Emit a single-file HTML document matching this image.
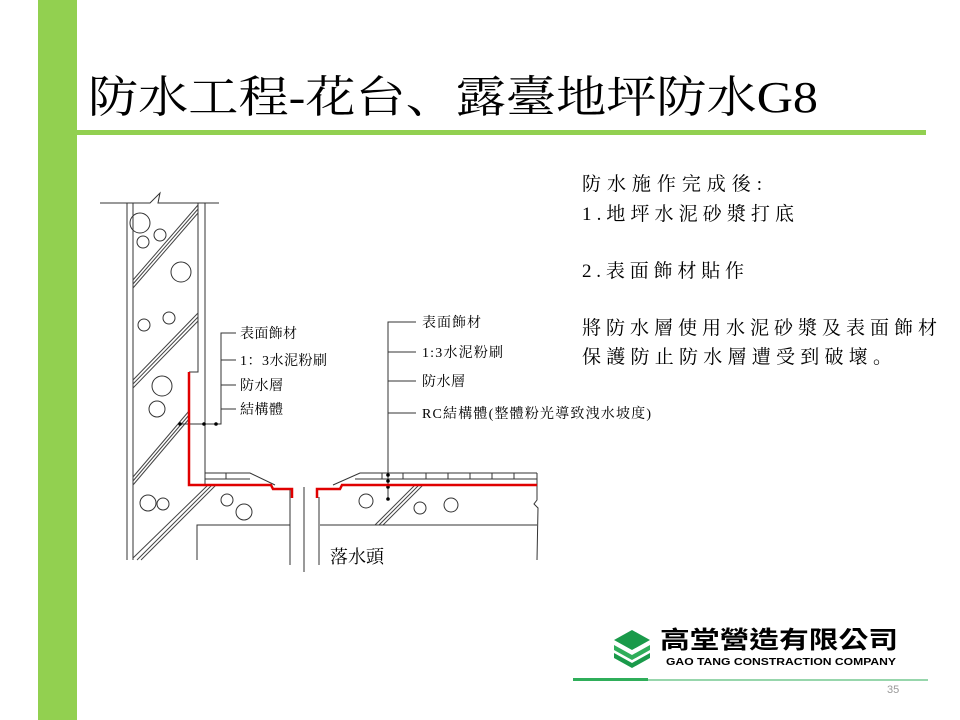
<!DOCTYPE html>
<html><head><meta charset="utf-8"><style>
html,body{margin:0;padding:0;background:#fff;}
svg{display:block;}
text{font-family:"Liberation Serif","Noto Serif CJK SC","Noto Sans CJK TC",serif;fill:#000;}
</style></head><body>
<svg width="960" height="720" viewBox="0 0 960 720" xmlns="http://www.w3.org/2000/svg">
<rect x="38" y="0" width="39" height="720" fill="#92d050"/>
<rect x="77" y="130" width="849" height="5" fill="#92d050"/>
<text x="88" y="112" font-size="44" textLength="730" lengthAdjust="spacingAndGlyphs">防水工程-花台、露臺地坪防水G8</text>

<g font-size="19">
<text x="582" y="190" textLength="180" lengthAdjust="spacing">防水施作完成後:</text>
<text x="582" y="220" textLength="212" lengthAdjust="spacing">1.地坪水泥砂漿打底</text>
<text x="582" y="277" textLength="162" lengthAdjust="spacing">2.表面飾材貼作</text>
<text x="582" y="334" textLength="355" lengthAdjust="spacing">將防水層使用水泥砂漿及表面飾材</text>
<text x="582" y="363" textLength="310" lengthAdjust="spacing">保護防止防水層遭受到破壞。</text>
</g>

<g stroke="#333" stroke-width="1" fill="none">
<polyline points="100,203 150,203 160,193 158,203 219,203"/>
<line x1="127" y1="203" x2="127" y2="560"/>
<line x1="133" y1="203" x2="133" y2="560"/>
<polyline points="198,203 198,372 189,372"/>
<line x1="205" y1="203" x2="205" y2="484"/>
<g stroke="#444">
<line x1="133" y1="280" x2="198" y2="205"/><line x1="133" y1="284" x2="198" y2="209"/><line x1="133" y1="288" x2="198" y2="213"/>
<line x1="133" y1="380" x2="198" y2="313"/><line x1="133" y1="384" x2="198" y2="317"/><line x1="133" y1="388" x2="198" y2="321"/>
<line x1="133" y1="477" x2="189" y2="411"/><line x1="133" y1="481" x2="189" y2="415"/><line x1="133" y1="485" x2="189" y2="419"/>
<line x1="133" y1="558" x2="208" y2="485"/><line x1="137" y1="560" x2="212" y2="485"/><line x1="141" y1="560" x2="216" y2="485"/>
<line x1="375" y1="525" x2="415" y2="485"/><line x1="379" y1="525" x2="419" y2="485"/><line x1="383" y1="525" x2="423" y2="485"/>
</g>
<circle cx="140" cy="223" r="10"/><circle cx="160" cy="235" r="6"/><circle cx="143" cy="242" r="6"/>
<circle cx="181" cy="272" r="10"/><circle cx="144" cy="325" r="6"/><circle cx="169" cy="318" r="6"/>
<circle cx="162" cy="386" r="10"/><circle cx="157" cy="409" r="8"/>
<circle cx="148" cy="503" r="8"/><circle cx="163" cy="504" r="6"/>
<circle cx="227" cy="500" r="6"/><circle cx="244" cy="512" r="8"/>
<circle cx="366" cy="501" r="7"/><circle cx="420" cy="508" r="6"/><circle cx="451" cy="505" r="7"/>
<polyline points="205,473 250,473 275,485"/>
<line x1="205" y1="479" x2="250" y2="479"/>
<line x1="226" y1="473" x2="226" y2="479"/>
<polyline points="333,485 360,473 537,473"/>
<line x1="355" y1="479" x2="537" y2="479"/>
<g><line x1="382" y1="473" x2="382" y2="479"/><line x1="403" y1="473" x2="403" y2="479"/><line x1="426" y1="473" x2="426" y2="479"/><line x1="448" y1="473" x2="448" y2="479"/><line x1="470" y1="473" x2="470" y2="479"/><line x1="492" y1="473" x2="492" y2="479"/><line x1="514" y1="473" x2="514" y2="479"/></g>
<polyline points="197,560 197,525 290,525"/>
<line x1="320" y1="525" x2="537" y2="525"/>
<line x1="290" y1="489" x2="290" y2="565"/>
<line x1="319" y1="497" x2="319" y2="565"/>
<line x1="304" y1="487" x2="304" y2="572"/>
<polyline points="537,473 537,500 534,504 538,508 537,560"/>
<polyline points="236,333 221,333 221,424 180,424"/>
<line x1="221" y1="360" x2="236" y2="360"/><line x1="221" y1="385" x2="236" y2="385"/><line x1="221" y1="409" x2="236" y2="409"/>
<polyline points="416,322 388,322 388,500"/>
<line x1="388" y1="352" x2="416" y2="352"/><line x1="388" y1="381" x2="416" y2="381"/><line x1="388" y1="413" x2="416" y2="413"/>
</g>
<g fill="#000"><circle cx="180" cy="424" r="1.8"/><circle cx="204" cy="424" r="1.8"/><circle cx="216" cy="424" r="1.8"/>
<circle cx="388" cy="475" r="1.8"/><circle cx="388" cy="481" r="1.8"/><circle cx="388" cy="487" r="1.8"/><circle cx="388" cy="499" r="1.8"/></g>
<g stroke="#e00000" stroke-width="2.5" fill="none">
<polyline points="189,372 189,485 271,485 273,489 292,489 292,498"/>
<polyline points="317,498 317,489 340,489 342,485 537,485"/>
</g>
<g font-size="14">
<text x="240" y="338" textLength="57" lengthAdjust="spacing">表面飾材</text>
<text x="240" y="365" textLength="87" lengthAdjust="spacing">1：3水泥粉刷</text>
<text x="240" y="390" textLength="43" lengthAdjust="spacing">防水層</text>
<text x="240" y="414" textLength="43" lengthAdjust="spacing">結構體</text>
<text x="422" y="327" textLength="59" lengthAdjust="spacing">表面飾材</text>
<text x="422" y="357" textLength="81" lengthAdjust="spacing">1:3水泥粉刷</text>
<text x="422" y="386" textLength="43" lengthAdjust="spacing">防水層</text>
<text x="422" y="418" textLength="229" lengthAdjust="spacing">RC結構體(整體粉光導致洩水坡度)</text>
</g>
<text x="330" y="563" font-size="18">落水頭</text>

<g>
<polygon points="614,640 632,630 650,640 632,650" fill="#1a9a4a"/>
<polygon points="614,645 632,655 650,645 650,650 632,660 614,650" fill="#2fae5a"/>
<polygon points="614,653 632,663 650,653 650,658 632,668 614,658" fill="#1a9a4a"/>
</g>
<text x="660" y="648" font-size="24" font-weight="bold" textLength="238" lengthAdjust="spacingAndGlyphs" style="font-family:'Noto Sans CJK TC',sans-serif">高堂營造有限公司</text>
<text x="666" y="665" font-size="10" font-weight="bold" textLength="230" lengthAdjust="spacingAndGlyphs" style="font-family:'Liberation Sans',sans-serif">GAO TANG CONSTRACTION COMPANY</text>
<rect x="573" y="678" width="75" height="3" fill="#2fae5a"/>
<line x1="648" y1="680" x2="928" y2="680" stroke="#2fae5a" stroke-width="1"/>
<text x="887" y="693" font-size="11" style="font-family:'Liberation Sans',sans-serif;fill:#999">35</text>
</svg>
</body></html>
